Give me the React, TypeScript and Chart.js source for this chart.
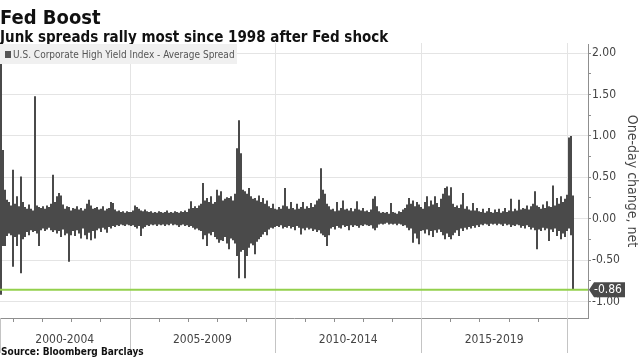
import React, { useEffect, useRef } from 'react';
import { Chart, registerables } from 'chart.js';

Chart.register(...registerables);

// ---------- text ----------
const TITLE = 'Fed Boost';
const SUBTITLE = 'Junk spreads rally most since 1998 after Fed shock';
const SOURCE = 'Source: Bloomberg Barclays';
const SERIES_NAME = 'U.S. Corporate High Yield Index - Average Spread';
const Y_TITLE = 'One-day change, net';

// ---------- axes ----------
const Y_MIN = -1.2;
const Y_MAX = 2.11;
const Y_STEP = 0.25;
const X_START = 2000.56; // decimal year at left edge of plot
const X_END = 2020.72;   // decimal year at right edge of plot
const PERIOD_STARTS = [2000, 2005, 2010, 2015, 2020];
const PERIOD_LABELS = ['2000-2004', '2005-2009', '2010-2014', '2015-2019'];
const LAST_VALUE = -0.86;

// ---------- data: one-day change range (low, high) per column, in hundredths ----------
const S2000_04: [number, number][] = [
  [-92, 195], [-33, 83], [-33, 35], [-21, 23], [-18, 20], [-20, 16], [-58, 59], [-22, 18], [-33, 27], [-19, 15],
  [-66, 51], [-25, 20], [-22, 14], [-16, 12], [-20, 17], [-14, 12], [-16, 10], [-15, 148], [-18, 16], [-33, 14],
  [-14, 13], [-12, 15], [-15, 12], [-13, 16], [-11, 14], [-14, 18], [-16, 53], [-14, 20], [-18, 27], [-15, 31],
  [-22, 28], [-13, 17], [-20, 12], [-18, 15], [-52, 14], [-20, 10], [-15, 13], [-21, 12], [-14, 15], [-18, 11],
  [-24, 13], [-12, 10], [-20, 12], [-25, 18], [-17, 23], [-26, 16], [-15, 12], [-24, 13], [-14, 14], [-12, 11],
  [-16, 12], [-11, 15], [-13, 10], [-17, 12], [-10, 13], [-12, 20], [-9, 19], [-10, 11], [-8, 9], [-9, 10],
  [-7, 8], [-8, 9], [-9, 7], [-7, 9], [-8, 8],
];
const S2005_09: [number, number][] = [
  [-9, 8], [-8, 10], [-10, 16], [-12, 14], [-9, 12], [-21, 10], [-12, 9], [-10, 11], [-8, 9], [-9, 8],
  [-7, 9], [-8, 7], [-7, 8], [-9, 7], [-7, 9], [-8, 8], [-7, 7], [-9, 8], [-7, 10], [-8, 7],
  [-6, 8], [-8, 7], [-7, 9], [-8, 8], [-10, 7], [-8, 9], [-7, 8], [-9, 10], [-8, 8], [-10, 12],
  [-9, 21], [-11, 13], [-13, 15], [-12, 13], [-14, 16], [-15, 18], [-25, 43], [-20, 22], [-33, 25], [-18, 20],
  [-20, 27], [-16, 18], [-22, 20], [-25, 35], [-29, 28], [-26, 33], [-27, 22], [-22, 24], [-30, 26], [-37, 25],
  [-24, 27], [-26, 22], [-30, 30], [-45, 85], [-72, 119], [-40, 79], [-38, 35], [-72, 33], [-45, 30], [-35, 37],
  [-30, 27], [-32, 24], [-43, 25], [-28, 22], [-25, 28], [-22, 20], [-19, 25], [-16, 18], [-20, 22], [-13, 15],
  [-11, 13], [-12, 18], [-10, 12],
];
const S2010_14: [number, number][] = [
  [-9, 11], [-10, 14], [-8, 12], [-12, 16], [-10, 37], [-11, 15], [-9, 12], [-12, 20], [-10, 13], [-14, 11],
  [-9, 18], [-11, 12], [-19, 14], [-12, 20], [-14, 12], [-11, 15], [-13, 13], [-12, 19], [-15, 14], [-13, 17],
  [-16, 22], [-14, 24], [-18, 61], [-20, 35], [-22, 30], [-33, 18], [-20, 15], [-12, 11], [-10, 12], [-13, 9],
  [-9, 20], [-11, 10], [-12, 13], [-8, 22], [-10, 11], [-9, 12], [-14, 10], [-8, 13], [-10, 9], [-8, 12],
  [-9, 21], [-11, 11], [-8, 10], [-9, 13], [-7, 9], [-8, 10], [-9, 8], [-8, 11], [-12, 24], [-14, 27],
  [-11, 15], [-7, 9], [-6, 7], [-7, 8], [-6, 7], [-5, 8], [-7, 6], [-6, 19], [-7, 8], [-6, 7],
  [-8, 6], [-6, 9], [-7, 8], [-9, 11], [-8, 13], [-11, 17], [-14, 25], [-12, 18], [-29, 22], [-18, 15],
  [-24, 20], [-31, 17], [-15, 14],
];
const S2015_19: [number, number][] = [
  [-14, 12], [-18, 20], [-13, 27], [-20, 15], [-15, 22], [-22, 17], [-14, 27], [-17, 19], [-13, 14], [-16, 24],
  [-20, 30], [-25, 37], [-18, 39], [-22, 28], [-25, 38], [-20, 18], [-17, 14], [-14, 16], [-21, 13], [-12, 17],
  [-15, 31], [-11, 12], [-13, 15], [-10, 11], [-12, 10], [-9, 19], [-11, 10], [-8, 13], [-10, 9], [-7, 8],
  [-8, 12], [-6, 7], [-7, 9], [-9, 13], [-6, 8], [-7, 7], [-6, 11], [-8, 8], [-6, 12], [-7, 7],
  [-9, 9], [-6, 13], [-8, 8], [-7, 10], [-10, 24], [-8, 9], [-9, 12], [-7, 10], [-8, 23], [-11, 11],
  [-9, 13], [-12, 12], [-8, 16], [-10, 11], [-13, 15], [-11, 18], [-14, 33], [-37, 16], [-13, 14], [-15, 12],
  [-11, 17], [-14, 13], [-12, 21], [-27, 15], [-13, 14], [-16, 40], [-12, 16], [-21, 25], [-15, 18], [-25, 27],
  [-18, 20], [-22, 24], [-15, 29],
];
const S2020: [number, number][] = [[-12, 98], [-20, 100], [-86, 28]];

const COLUMN_COUNT = 294; // columns across the full plot width (the rest of 2020 is empty)

// ---------- styles ----------
const FONT = '"DejaVu Sans Condensed", "DejaVu Sans", sans-serif';
const BAR_COLOR = '#4a4a4a';
const GRID_COLOR = '#e4e4e4';
const AXIS_COLOR = '#8f8f8f';
const TEXT_COLOR = '#444444';
const GREEN = '#93d04c';

const RANGES = [...S2000_04, ...S2005_09, ...S2010_14, ...S2015_19, ...S2020];
const BARS: ([number, number] | null)[] = RANGES.map(([lo, hi]) => [lo / 100, hi / 100] as [number, number]);
while (BARS.length < COLUMN_COUNT) BARS.push(null);
const LABELS = BARS.map((_, i) => String(i));

const isMult = (v: number, step: number) => Math.abs(v / step - Math.round(v / step)) < 1e-6;

// decimal year -> pixel, through the category scale (fractional column index)
const yearPx = (x: any, yr: number) =>
  x.getPixelForValue(((yr - X_START) / (X_END - X_START)) * COLUMN_COUNT - 0.5);

const decor = {
  id: 'decor',
  beforeDatasetsDraw(chart: any) {
    const { ctx, chartArea: a, scales } = chart;
    ctx.save();
    ctx.strokeStyle = GRID_COLOR;
    ctx.lineWidth = 1;
    PERIOD_STARTS.forEach((p) => {
      const px = Math.round(yearPx(scales.x, p)) + 0.5;
      if (px > a.left + 1 && px < a.right - 1) {
        ctx.beginPath();
        ctx.moveTo(px, a.top - 1);
        ctx.lineTo(px, a.bottom);
        ctx.stroke();
      }
    });
    ctx.restore();
  },
  afterDatasetsDraw(chart: any) {
    const { ctx, chartArea: a, scales } = chart;
    const yv = scales.y.getPixelForValue(LAST_VALUE);
    ctx.save();
    ctx.strokeStyle = GREEN;
    ctx.lineWidth = 2;
    ctx.beginPath();
    ctx.moveTo(a.left, yv);
    ctx.lineTo(a.right, yv);
    ctx.stroke();
    ctx.restore();
  },
  afterDraw(chart: any) {
    const { ctx, chartArea: a, scales } = chart;
    const x = scales.x;
    const y = scales.y;
    ctx.save();
    // bottom axis line
    ctx.strokeStyle = AXIS_COLOR;
    ctx.lineWidth = 1;
    ctx.beginPath();
    ctx.moveTo(a.left, a.bottom + 0.5);
    ctx.lineTo(a.right + 1, a.bottom + 0.5);
    ctx.stroke();
    // yearly ticks
    for (let yr = Math.ceil(X_START); yr <= Math.floor(X_END); yr++) {
      const px = Math.round(yearPx(x, yr)) + 0.5;
      ctx.beginPath();
      ctx.moveTo(px, a.bottom);
      ctx.lineTo(px, a.bottom + 4);
      ctx.stroke();
    }
    // period separators in label band
    ctx.strokeStyle = '#c4c4c4';
    const seps = [a.left + 0.5];
    PERIOD_STARTS.forEach((p) => {
      const px = Math.round(yearPx(x, p)) + 0.5;
      if (px > a.left + 1 && px < a.right) seps.push(px);
    });
    seps.forEach((px) => {
      ctx.beginPath();
      ctx.moveTo(px, a.bottom);
      ctx.lineTo(px, a.bottom + 35);
      ctx.stroke();
    });
    // period labels
    ctx.fillStyle = TEXT_COLOR;
    ctx.font = `12px ${FONT}`;
    ctx.textAlign = 'center';
    ctx.textBaseline = 'middle';
    PERIOD_LABELS.forEach((lab, i) => {
      const from = Math.max(a.left, yearPx(x, PERIOD_STARTS[i]));
      const to = Math.min(a.right, yearPx(x, PERIOD_STARTS[i + 1]));
      ctx.fillText(lab, (from + to) / 2, a.bottom + 22);
    });
    // last value callout
    const yv = y.getPixelForValue(LAST_VALUE);
    const x0 = a.right + 1;
    ctx.fillStyle = '#4a4a4a';
    ctx.beginPath();
    ctx.moveTo(x0, yv);
    ctx.lineTo(x0 + 5, yv - 7.5);
    ctx.lineTo(x0 + 36, yv - 7.5);
    ctx.lineTo(x0 + 36, yv + 7.5);
    ctx.lineTo(x0 + 5, yv + 7.5);
    ctx.closePath();
    ctx.fill();
    ctx.fillStyle = '#ffffff';
    ctx.textAlign = 'left';
    ctx.fillText(LAST_VALUE.toFixed(2), x0 + 5, yv + 0.5);
    ctx.restore();
  },
};

export default function App() {
  const ref = useRef<HTMLCanvasElement>(null);

  useEffect(() => {
    const canvas = ref.current;
    if (!canvas) return;
    Chart.defaults.font.family = FONT;
    const chart = new Chart(canvas, {
      type: 'bar',
      data: {
        labels: LABELS,
        datasets: [
          {
            label: SERIES_NAME,
            data: BARS as any,
            backgroundColor: BAR_COLOR,
            borderWidth: 0,
            barPercentage: 1,
            categoryPercentage: 1,
            inflateAmount: 0,
            xAxisID: 'x',
            yAxisID: 'y',
          } as any,
        ],
      },
      options: {
        responsive: false,
        animation: false,
        devicePixelRatio: 1,
        layout: { padding: { top: 44, bottom: 41, left: 0, right: 0 } },
        plugins: {
          legend: { display: false },
          tooltip: { enabled: false },
          title: { display: false },
        },
        scales: {
          x: { type: 'category', display: false },
          y: {
            position: 'right',
            min: Y_MIN,
            max: Y_MAX,
            afterFit: (s: any) => {
              s.width = 52;
            },
            border: { display: true, color: AXIS_COLOR, width: 1 },
            grid: {
              color: (c: any) => (c.tick && isMult(c.tick.value, 0.5) ? GRID_COLOR : 'rgba(0,0,0,0)'),
              tickColor: (c: any) => (c.tick && isMult(c.tick.value, 0.25) ? AXIS_COLOR : 'rgba(0,0,0,0)'),
              tickLength: 3,
            },
            ticks: {
              stepSize: Y_STEP,
              autoSkip: false,
              includeBounds: false,
              padding: 1,
              color: TEXT_COLOR,
              font: { size: 12, family: FONT },
              callback: (v: any) => (isMult(Number(v), 0.5) ? Number(v).toFixed(2) : ''),
            },
            title: {
              display: true,
              text: Y_TITLE,
              color: TEXT_COLOR,
              font: { size: 14, family: FONT },
              padding: 0,
            },
          },
        } as any,
      },
      plugins: [decor],
    });
    return () => chart.destroy();
  }, []);

  return (
    <div
      style={{
        position: 'fixed',
        left: 0,
        top: 0,
        width: 640,
        height: 359,
        background: '#ffffff',
        overflow: 'hidden',
        fontFamily: FONT,
      }}
    >
      <canvas ref={ref} width={640} height={359} style={{ position: 'absolute', left: 0, top: 0, width: 640, height: 359 }} />
      <div
        style={{
          position: 'absolute',
          left: 0,
          top: 7,
          fontSize: 20,
          lineHeight: '20px',
          fontWeight: 'bold',
          color: '#111',
          whiteSpace: 'nowrap',
        }}
      >
        {TITLE}
      </div>
      <div
        style={{
          position: 'absolute',
          left: 0,
          top: 30,
          fontSize: 15,
          lineHeight: '15px',
          fontWeight: 'bold',
          color: '#111',
          whiteSpace: 'nowrap',
        }}
      >
        {SUBTITLE}
      </div>
      <div
        style={{
          position: 'absolute',
          left: 0,
          top: 44,
          width: 237,
          height: 20,
          background: '#f0f0f0',
          display: 'flex',
          alignItems: 'center',
          whiteSpace: 'nowrap',
          fontSize: 10,
          color: '#555',
        }}
      >
        <span style={{ display: 'inline-block', width: 6, height: 7, background: '#555', marginLeft: 5, marginRight: 2 }} />
        <span>{SERIES_NAME}</span>
      </div>
      <div
        style={{
          position: 'absolute',
          left: 1,
          top: 347,
          fontSize: 10,
          lineHeight: '10px',
          fontWeight: 'bold',
          color: '#111',
          whiteSpace: 'nowrap',
        }}
      >
        {SOURCE}
      </div>
    </div>
  );
}
